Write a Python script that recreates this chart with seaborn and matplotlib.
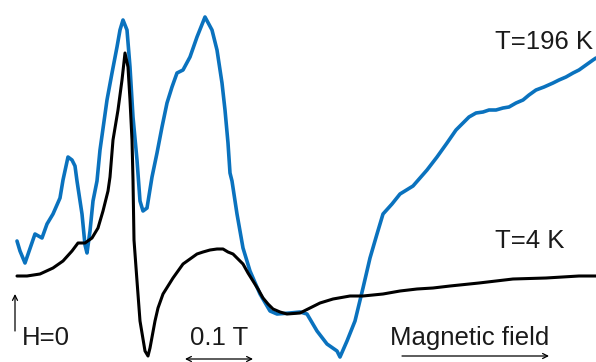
import matplotlib
matplotlib.use("Agg")
import matplotlib.pyplot as plt
import seaborn as sns
import pandas as pd

# Magnetic field (mT) and EPR signal (arb. units)
field_196K = [3, 7.5, 15, 30, 40.5, 48, 57, 67.5, 72, 79.5, 85.5, 90, 93, 100.5, 105, 108,
              112.5, 117, 123, 127.5, 138, 145.5, 153, 157.5, 162, 168, 172.5, 177, 183,
              187.5, 192, 198, 205.5, 213, 220.5, 228, 235.5, 243, 252, 262.5, 273, 285,
              295.5, 303, 310.5, 315, 319.5, 322.5, 325.5, 333, 342, 352.5, 367.5, 382.5,
              393, 412.5, 427.5, 438, 453, 468, 483, 487.5, 498, 510, 522, 532.5, 543, 552,
              565.5, 577.5, 597, 607.5, 618, 633, 648, 661.5, 672, 681, 691.5, 702, 711,
              721.5, 732, 741, 751.5, 762, 771, 781.5, 793.5, 807, 816, 826.5, 837, 846,
              856.5, 867, 871.5]
signal_196K = [121, 111, 99, 128, 124, 138, 148, 164, 182, 205, 202, 196, 181, 148, 117, 109,
               131, 161, 181, 212, 262, 289, 315, 332, 342, 332, 295, 245, 202,
               161, 151, 154, 185, 209, 235, 259, 275, 289, 292, 305, 325, 345,
               332, 312, 279, 252, 219, 189, 181, 148, 114, 91, 68, 51,
               48, 49, 50, 48, 31, 18, 11, 5, 21, 41, 74, 104, 128, 148,
               158, 168, 176, 184, 192, 205, 219, 232, 239, 245, 249, 250, 252,
               252, 254, 255, 259, 262, 267, 272, 275, 279, 282, 285, 289, 292,
               297, 302, 304]

field_4K = [3, 18, 37.5, 57, 72, 85.5, 94.5, 105, 115.5, 124.5, 132, 139.5, 142.5, 147,
            154.5, 160.5, 165, 169.5, 172.5, 175.5, 177, 178.5, 183, 187.5, 195, 199.5,
            202.5, 210, 214.5, 222, 229.5, 237, 244.5, 252, 262.5, 273, 282, 292.5, 303,
            312, 319.5, 327, 334.5, 342, 349.5, 357, 364.5, 372, 379.5, 387, 397.5, 408,
            427.5, 442.5, 457.5, 477, 502.5, 522, 552, 577.5, 603, 627, 652.5, 696,
            747, 796.5, 846, 871.5]
signal_4K = [86, 86, 88, 94, 101, 111, 119, 119, 124, 134, 151, 171, 185, 222,
             252, 282, 309, 295, 262, 222, 182, 122, 81, 41, 11, 6,
             14, 41, 54, 68, 76, 84, 91, 98, 103, 108, 110, 112, 113,
             113, 110, 108, 103, 98, 89, 81, 73, 64, 58, 53, 50, 48,
             49, 54, 59, 63, 66, 66, 68, 71, 73, 74, 76, 79,
             83, 84, 86, 86]

labels = ["T=196 K", "T=4 K"]

df_hot = pd.DataFrame({"field": field_196K, "signal": signal_196K})
df_cold = pd.DataFrame({"field": field_4K, "signal": signal_4K})

sns.set_style("white")
plt.rcParams["font.family"] = ["Liberation Sans", "DejaVu Sans"]

fig = plt.figure(figsize=(5.96, 3.62), dpi=100)
ax = fig.add_axes([0, 0, 1, 1])

sns.lineplot(data=df_hot, x="field", y="signal", ax=ax, color="#0A72BE",
             linewidth=2.6, sort=False, estimator=None)
sns.lineplot(data=df_cold, x="field", y="signal", ax=ax, color="black",
             linewidth=2.2, sort=False, estimator=None)

ax.set_xlim(-22.5, 871.5)
ax.set_ylim(0, 362)
ax.axis("off")

fs = 18.5
tc = "#1a1a1a"
ax.text(720, 320, labels[0], fontsize=fs, ha="left", va="center", color=tc)
ax.text(720, 121, labels[1], fontsize=fs, ha="left", va="center", color=tc)
ax.text(10.5, 24, "H=0", fontsize=fs, ha="left", va="center", color=tc)
ax.text(262.5, 24, "0.1 T", fontsize=fs, ha="left", va="center", color=tc)
ax.text(562.5, 24, "Magnetic field", fontsize=fs, ha="left", va="center", color=tc)

arrow_kw = dict(arrowstyle="->", color="black", lw=0.9, shrinkA=0, shrinkB=0,
                mutation_scale=9)
ax.annotate("", xy=(0, 68), xytext=(0, 31), arrowprops=arrow_kw)
ax.annotate("", xy=(357, 3), xytext=(255, 3),
            arrowprops=dict(arrowstyle="<->", color="black", lw=0.9,
                            shrinkA=0, shrinkB=0, mutation_scale=9))
ax.annotate("", xy=(801, 6), xytext=(580.5, 6), arrowprops=arrow_kw)

fig.savefig("out.png", dpi=100)
